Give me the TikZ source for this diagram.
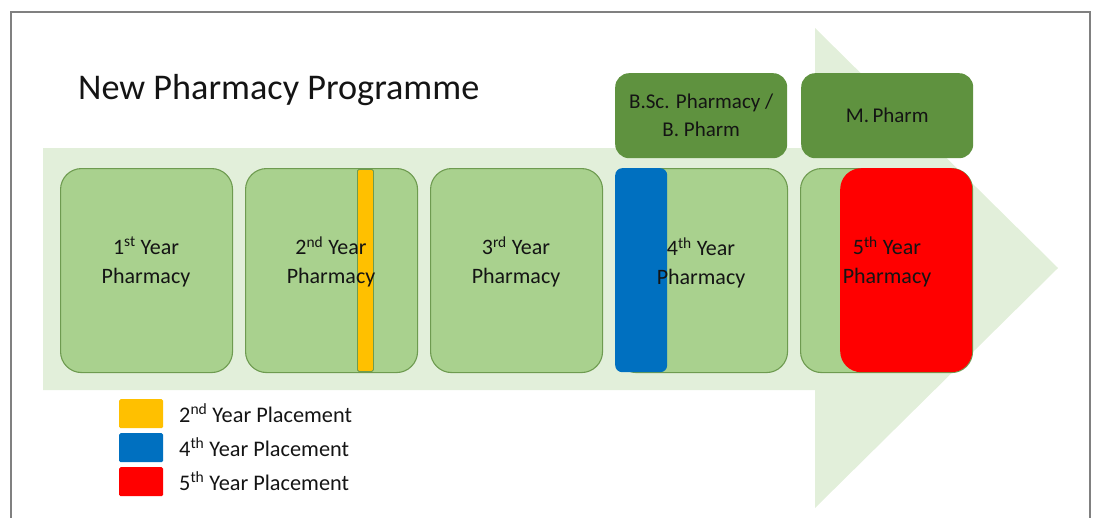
\documentclass[tikz,border=0pt]{standalone}
\usepackage{fontspec}
\setmainfont{Carlito}
\definecolor{arrowbg}{HTML}{E2EFDA}
\definecolor{boxfill}{HTML}{A9D18E}
\definecolor{boxedge}{HTML}{6E9B50}
\definecolor{darkgreen}{HTML}{5F923F}
\definecolor{placeyellow}{HTML}{FFC000}
\definecolor{placeblue}{HTML}{0070C0}
\definecolor{placered}{HTML}{FF0000}
\definecolor{txt}{HTML}{141414}
\begin{document}
\begin{tikzpicture}[x=1pt,y=-1pt,
  yearbox/.style={draw=boxedge,line width=1.1pt,fill=boxfill,rounded corners=21pt,
    minimum width=172pt,minimum height=204pt,inner sep=0pt,anchor=north west},
  degbox/.style={fill=darkgreen,rounded corners=14pt,minimum width=172pt,
    minimum height=85pt,inner sep=0pt,anchor=north west,text=txt,
    font=\fontsize{21}{28}\selectfont,align=center},
  yeartext/.style={text=txt,font=\fontsize{22}{29}\selectfont,align=center,inner sep=0pt},
  legsq/.style={minimum width=44pt,minimum height=29pt,inner sep=0pt,anchor=north west,rounded corners=1.5pt},
  legtext/.style={text=txt,font=\fontsize{22.3}{24}\selectfont,anchor=west,inner sep=0pt}]
\useasboundingbox (0,0) rectangle (1097,517);
% frame
\draw[gray,line width=1.1pt] (11,530) -- (11,12) -- (1090,12) -- (1090,530);
% big arrow
\fill[arrowbg] (43,148) -- (815,148) -- (815,28) -- (1058,268) -- (815,508) -- (815,390) -- (43,390) -- cycle;
% title
\node[text=txt,font=\fontsize{36.2}{40}\selectfont,anchor=base west,inner sep=0pt] (title) at (78,99) {New Pharmacy Programme};
% year boxes
\node[yearbox] (y1) at (60,168) {};
\node[yearbox] (y2) at (245,168) {};
\node[yearbox] (y3) at (430,168) {};
\node[yearbox] (y4) at (615,168) {};
\node[yearbox] (y5) at (800,168) {};
% placements
\node[draw=boxedge,line width=0.8pt,fill=placeyellow,minimum width=16pt,minimum height=202pt,inner sep=0pt,anchor=north west,rounded corners=1.5pt] (p2) at (357,169) {};
\node[fill=placeblue,minimum width=52pt,minimum height=204pt,inner sep=0pt,anchor=north west,rounded corners=7pt] (p4) at (615,168) {};
\node[fill=placered,minimum width=132pt,minimum height=204pt,inner sep=0pt,anchor=north west,rounded corners=21pt] (p5) at (840,168) {};
% year texts
\node[yeartext] (t1) at (146,262) {1\textsuperscript{st} Year\\Pharmacy};
\node[yeartext] (t2) at (331,262) {2\textsuperscript{nd} Year\\Pharmacy};
\node[yeartext] (t3) at (516,262) {3\textsuperscript{rd} Year\\Pharmacy};
\node[yeartext] (t4) at (701,263) {4\textsuperscript{th} Year\\Pharmacy};
\node[yeartext] (t5) at (887,262) {5\textsuperscript{th} Year\\Pharmacy};
% degree boxes
\node[degbox] (bsc) at (615,73) {B.Sc. Pharmacy /\\B. Pharm};
\node[degbox] (mph) at (801,73) {M.\,Pharm};
% legend
\node[legsq,fill=placeyellow] (l2) at (119,399) {};
\node[legsq,fill=placeblue] (l4) at (119,433) {};
\node[legsq,fill=placered] (l5) at (119,467) {};
\node[legtext] (lt2) at (179,413) {2\textsuperscript{nd} Year Placement};
\node[legtext] (lt4) at (179,447) {4\textsuperscript{th} Year Placement};
\node[legtext] (lt5) at (179,481) {5\textsuperscript{th} Year Placement};
\end{tikzpicture}
\end{document}
